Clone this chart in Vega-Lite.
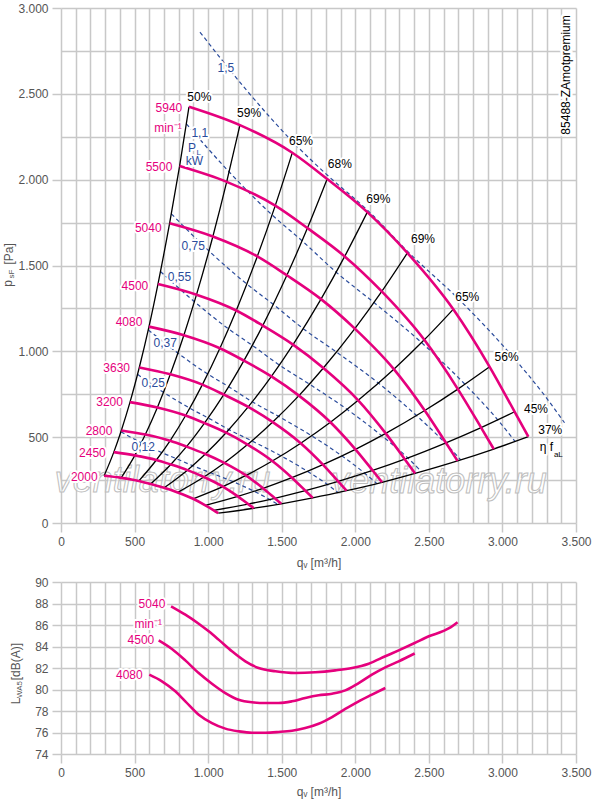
{
  "$schema": "https://vega.github.io/schema/vega-lite/v6.json",
  "description": "Fan curve 85488-ZAmotpremium: pressure vs volume flow and sound power.",
  "background": "white",
  "padding": {"left": 2, "top": 2, "right": 0, "bottom": 6},
  "spacing": 59,
  "bounds": "flush",
  "config": {
    "font": "Liberation Sans",
    "view": {"stroke": null},
    "axis": {
      "grid": true, "gridColor": "#c8c8c8", "gridWidth": 1.5, "domain": false,
      "tickColor": "#c8c8c8", "tickWidth": 1.5, "tickSize": 9, "labelPadding": 4,
      "labelColor": "#555555", "labelFontSize": 12, "labelFont": "Liberation Sans",
      "titleColor": "#555555", "titleFontSize": 12, "titleFontWeight": "normal", "titleFont": "Liberation Sans",
      "labelOverlap": false, "labelFlush": false, "labelBound": false
    },
    "line": {"interpolate": "monotone"}
  },
  "datasets": {
    "pts": [
      {"n":5940,"e":"50","q":870,"p":2425},{"n":5940,"e":"59","q":1216,"p":2318},{"n":5940,"e":"65a","q":1572,"p":2157},{"n":5940,"e":"68","q":1809,"p":2004},{"n":5940,"e":"69a","q":2082,"p":1811},{"n":5940,"e":"69b","q":2354,"p":1573},{"n":5940,"e":"65b","q":2666,"p":1245},{"n":5940,"e":"56","q":2913,"p":910},{"n":5940,"e":"45","q":3083,"p":648},{"n":5940,"e":"37","q":3176,"p":503},
      {"n":5500,"e":"50","q":806,"p":2079},{"n":5500,"e":"59","q":1126,"p":1987},{"n":5500,"e":"65a","q":1456,"p":1849},{"n":5500,"e":"68","q":1675,"p":1718},{"n":5500,"e":"69a","q":1928,"p":1553},{"n":5500,"e":"69b","q":2180,"p":1349},{"n":5500,"e":"65b","q":2469,"p":1067},{"n":5500,"e":"56","q":2697,"p":780},{"n":5500,"e":"45","q":2855,"p":556},{"n":5500,"e":"37","q":2941,"p":431},
      {"n":5040,"e":"50","q":738,"p":1746},{"n":5040,"e":"59","q":1032,"p":1669},{"n":5040,"e":"65a","q":1334,"p":1553},{"n":5040,"e":"68","q":1535,"p":1443},{"n":5040,"e":"69a","q":1767,"p":1304},{"n":5040,"e":"69b","q":1997,"p":1132},{"n":5040,"e":"65b","q":2262,"p":896},{"n":5040,"e":"56","q":2472,"p":655},{"n":5040,"e":"45","q":2616,"p":467},{"n":5040,"e":"37","q":2695,"p":362},
      {"n":4500,"e":"50","q":659,"p":1392},{"n":4500,"e":"59","q":921,"p":1330},{"n":4500,"e":"65a","q":1191,"p":1238},{"n":4500,"e":"68","q":1371,"p":1150},{"n":4500,"e":"69a","q":1577,"p":1039},{"n":4500,"e":"69b","q":1783,"p":903},{"n":4500,"e":"65b","q":2020,"p":715},{"n":4500,"e":"56","q":2207,"p":522},{"n":4500,"e":"45","q":2336,"p":372},{"n":4500,"e":"37","q":2406,"p":289},
      {"n":4080,"e":"50","q":598,"p":1144},{"n":4080,"e":"59","q":835,"p":1094},{"n":4080,"e":"65a","q":1080,"p":1018},{"n":4080,"e":"68","q":1243,"p":946},{"n":4080,"e":"69a","q":1430,"p":854},{"n":4080,"e":"69b","q":1617,"p":742},{"n":4080,"e":"65b","q":1831,"p":587},{"n":4080,"e":"56","q":2001,"p":429},{"n":4080,"e":"45","q":2118,"p":306},{"n":4080,"e":"37","q":2182,"p":237},
      {"n":3630,"e":"50","q":532,"p":906},{"n":3630,"e":"59","q":743,"p":866},{"n":3630,"e":"65a","q":961,"p":806},{"n":3630,"e":"68","q":1106,"p":748},{"n":3630,"e":"69a","q":1272,"p":676},{"n":3630,"e":"69b","q":1439,"p":588},{"n":3630,"e":"65b","q":1629,"p":465},{"n":3630,"e":"56","q":1780,"p":340},{"n":3630,"e":"45","q":1884,"p":242},{"n":3630,"e":"37","q":1941,"p":188},
      {"n":3200,"e":"50","q":469,"p":704},{"n":3200,"e":"59","q":655,"p":673},{"n":3200,"e":"65a","q":847,"p":626},{"n":3200,"e":"68","q":975,"p":582},{"n":3200,"e":"69a","q":1122,"p":526},{"n":3200,"e":"69b","q":1268,"p":457},{"n":3200,"e":"65b","q":1436,"p":361},{"n":3200,"e":"56","q":1569,"p":264},{"n":3200,"e":"45","q":1661,"p":188},{"n":3200,"e":"37","q":1711,"p":146},
      {"n":2800,"e":"50","q":410,"p":539},{"n":2800,"e":"59","q":573,"p":515},{"n":2800,"e":"65a","q":741,"p":479},{"n":2800,"e":"68","q":853,"p":445},{"n":2800,"e":"69a","q":981,"p":402},{"n":2800,"e":"69b","q":1110,"p":350},{"n":2800,"e":"65b","q":1257,"p":277},{"n":2800,"e":"56","q":1373,"p":202},{"n":2800,"e":"45","q":1453,"p":144},{"n":2800,"e":"37","q":1497,"p":112},
      {"n":2450,"e":"50","q":359,"p":413},{"n":2450,"e":"59","q":502,"p":394},{"n":2450,"e":"65a","q":648,"p":367},{"n":2450,"e":"68","q":746,"p":341},{"n":2450,"e":"69a","q":859,"p":308},{"n":2450,"e":"69b","q":971,"p":268},{"n":2450,"e":"65b","q":1100,"p":212},{"n":2450,"e":"56","q":1202,"p":155},{"n":2450,"e":"45","q":1272,"p":110},{"n":2450,"e":"37","q":1310,"p":86},
      {"n":2000,"e":"50","q":293,"p":275},{"n":2000,"e":"59","q":409,"p":263},{"n":2000,"e":"65a","q":529,"p":245},{"n":2000,"e":"68","q":609,"p":227},{"n":2000,"e":"69a","q":701,"p":205},{"n":2000,"e":"69b","q":793,"p":178},{"n":2000,"e":"65b","q":898,"p":141},{"n":2000,"e":"56","q":981,"p":103},{"n":2000,"e":"45","q":1038,"p":74},{"n":2000,"e":"37","q":1069,"p":57}
    ],
    "pw": [
      {"kw":"1,5","q":945,"p":2859},{"kw":"1,5","q":1267,"p":2515},{"kw":"1,5","q":1590,"p":2207},{"kw":"1,5","q":1817,"p":2021},{"kw":"1,5","q":2088,"p":1818},{"kw":"1,5","q":2359,"p":1579},{"kw":"1,5","q":2716,"p":1293},{"kw":"1,5","q":3044,"p":994},{"kw":"1,5","q":3291,"p":738},{"kw":"1,5","q":3422,"p":584},
      {"kw":"1,1","q":852,"p":2325},{"kw":"1,1","q":1142,"p":2046},{"kw":"1,1","q":1434,"p":1795},{"kw":"1,1","q":1638,"p":1644},{"kw":"1,1","q":1870,"p":1461},{"kw":"1,1","q":2127,"p":1284},{"kw":"1,1","q":2450,"p":1051},{"kw":"1,1","q":2745,"p":808},{"kw":"1,1","q":2968,"p":601},{"kw":"1,1","q":3086,"p":475},
      {"kw":"0,75","q":750,"p":1801},{"kw":"0,75","q":1005,"p":1585},{"kw":"0,75","q":1263,"p":1392},{"kw":"0,75","q":1442,"p":1274},{"kw":"0,75","q":1646,"p":1132},{"kw":"0,75","q":1873,"p":995},{"kw":"0,75","q":2157,"p":815},{"kw":"0,75","q":2416,"p":626},{"kw":"0,75","q":2612,"p":465},{"kw":"0,75","q":2716,"p":368},
      {"kw":"0,55","q":676,"p":1465},{"kw":"0,55","q":907,"p":1289},{"kw":"0,55","q":1138,"p":1131},{"kw":"0,55","q":1300,"p":1035},{"kw":"0,55","q":1484,"p":920},{"kw":"0,55","q":1688,"p":809},{"kw":"0,55","q":1944,"p":662},{"kw":"0,55","q":2179,"p":509},{"kw":"0,55","q":2357,"p":379},{"kw":"0,55","q":2450,"p":299},
      {"kw":"0,37","q":593,"p":1125},{"kw":"0,37","q":795,"p":989},{"kw":"0,37","q":997,"p":868},{"kw":"0,37","q":1139,"p":794},{"kw":"0,37","q":1300,"p":706},{"kw":"0,37","q":1479,"p":621},{"kw":"0,37","q":1703,"p":508},{"kw":"0,37","q":1909,"p":391},{"kw":"0,37","q":2064,"p":290},{"kw":"0,37","q":2146,"p":230},
      {"kw":"0,25","q":520,"p":866},{"kw":"0,25","q":697,"p":761},{"kw":"0,25","q":875,"p":669},{"kw":"0,25","q":1000,"p":612},{"kw":"0,25","q":1141,"p":544},{"kw":"0,25","q":1298,"p":478},{"kw":"0,25","q":1495,"p":391},{"kw":"0,25","q":1675,"p":301},{"kw":"0,25","q":1811,"p":224},{"kw":"0,25","q":1883,"p":177},
      {"kw":"0,12","q":407,"p":531},{"kw":"0,12","q":546,"p":467},{"kw":"0,12","q":685,"p":410},{"kw":"0,12","q":783,"p":375},{"kw":"0,12","q":894,"p":334},{"kw":"0,12","q":1016,"p":293},{"kw":"0,12","q":1171,"p":240},{"kw":"0,12","q":1312,"p":185},{"kw":"0,12","q":1418,"p":137},{"kw":"0,12","q":1474,"p":108}
    ],
    "spd": [
      {"t":"5940","q":824,"p":2417},{"t":"min⁻¹","q":820,"p":2299},{"t":"5500","q":757,"p":2074},{"t":"5040","q":684,"p":1718},{"t":"4500","q":593,"p":1382},{"t":"4080","q":553,"p":1169},{"t":"3630","q":469,"p":903},{"t":"3200","q":421,"p":702},{"t":"2800","q":349,"p":536},{"t":"2450","q":304,"p":408},{"t":"2000","q":249,"p":268}
    ],
    "eta": [
      {"t":"50%","q":940,"p":2479},{"t":"59%","q":1278,"p":2386},{"t":"65%","q":1631,"p":2228},{"t":"68%","q":1895,"p":2092},{"t":"69%","q":2157,"p":1889},{"t":"69%","q":2460,"p":1656},{"t":"65%","q":2761,"p":1316},{"t":"56%","q":3028,"p":969},{"t":"45%","q":3228,"p":664},{"t":"37%","q":3325,"p":539},{"t":"η f","q":3299,"p":443}
    ],
    "pwl": [
      {"t":"1,5","q":1121,"p":2650},{"t":"1,1","q":943,"p":2273},{"t":"P","q":890,"p":2186},{"t":"kW","q":906,"p":2110},{"t":"0,75","q":898,"p":1615},{"t":"0,55","q":805,"p":1435},{"t":"0,37","q":708,"p":1050},{"t":"0,25","q":627,"p":817},{"t":"0,12","q":559,"p":444}
    ],
    "lw": [
      {"n":5040,"q":748,"L":87.74},{"n":5040,"q":845,"L":86.96},{"n":5040,"q":936,"L":86.12},{"n":5040,"q":1004,"L":85.41},{"n":5040,"q":1071,"L":84.64},{"n":5040,"q":1162,"L":83.55},{"n":5040,"q":1253,"L":82.62},{"n":5040,"q":1343,"L":82.0},{"n":5040,"q":1457,"L":81.69},{"n":5040,"q":1593,"L":81.53},{"n":5040,"q":1728,"L":81.6},{"n":5040,"q":1864,"L":81.78},{"n":5040,"q":1978,"L":82.0},{"n":5040,"q":2091,"L":82.4},{"n":5040,"q":2204,"L":83.09},{"n":5040,"q":2295,"L":83.64},{"n":5040,"q":2400,"L":84.3},{"n":5040,"q":2500,"L":84.95},{"n":5040,"q":2600,"L":85.45},{"n":5040,"q":2650,"L":85.8},{"n":5040,"q":2695,"L":86.25},
      {"n":4500,"q":664,"L":84.57},{"n":4500,"q":754,"L":83.77},{"n":4500,"q":845,"L":82.71},{"n":4500,"q":936,"L":81.53},{"n":4500,"q":1026,"L":80.54},{"n":4500,"q":1117,"L":79.67},{"n":4500,"q":1207,"L":79.05},{"n":4500,"q":1298,"L":78.81},{"n":4500,"q":1389,"L":78.74},{"n":4500,"q":1479,"L":78.74},{"n":4500,"q":1570,"L":78.9},{"n":4500,"q":1660,"L":79.21},{"n":4500,"q":1751,"L":79.46},{"n":4500,"q":1842,"L":79.61},{"n":4500,"q":1932,"L":79.92},{"n":4500,"q":2023,"L":80.6},{"n":4500,"q":2113,"L":81.38},{"n":4500,"q":2204,"L":82.06},{"n":4500,"q":2295,"L":82.62},{"n":4500,"q":2404,"L":83.35},
      {"n":4080,"q":600,"L":81.38},{"n":4080,"q":686,"L":80.76},{"n":4080,"q":777,"L":79.83},{"n":4080,"q":845,"L":78.9},{"n":4080,"q":936,"L":77.66},{"n":4080,"q":1026,"L":76.88},{"n":4080,"q":1117,"L":76.36},{"n":4080,"q":1207,"L":76.11},{"n":4080,"q":1298,"L":75.98},{"n":4080,"q":1389,"L":75.98},{"n":4080,"q":1479,"L":76.05},{"n":4080,"q":1570,"L":76.17},{"n":4080,"q":1660,"L":76.42},{"n":4080,"q":1751,"L":76.82},{"n":4080,"q":1842,"L":77.44},{"n":4080,"q":1932,"L":78.19},{"n":4080,"q":2023,"L":78.9},{"n":4080,"q":2113,"L":79.52},{"n":4080,"q":2204,"L":80.14}
    ],
    "lwl": [
      {"t":"5040","q":709,"L":87.95},{"t":"min⁻¹","q":686,"L":86.12},{"t":"4500","q":634,"L":84.57},{"t":"4080","q":555,"L":81.38}
    ]
  },
  "vconcat": [
    {
      "width": 515,
      "height": 515,
      "encoding": {
        "x": {
          "field": "q", "type": "quantitative",
          "scale": {"domain": [0, 3500], "nice": false, "zero": false},
          "axis": {
            "values": [0,100,200,300,400,500,600,700,800,900,1000,1100,1200,1300,1400,1500,1600,1700,1800,1900,2000,2100,2200,2300,2400,2500,2600,2700,2800,2900,3000,3100,3200,3300,3400,3500],
            "labelExpr": "datum.value % 500 === 0 ? replace(format(datum.value, ','), ',', '.') : ''",
            "tickOpacity": {"condition": {"test": "datum.value % 500 === 0", "value": 1}, "value": 0},
            "title": "qᵥ [m³/h]",
            "titlePadding": 10
          }
        },
        "y": {
          "field": "p", "type": "quantitative",
          "scale": {"domain": [0, 3000], "nice": false, "zero": false},
          "axis": {
            "values": [0,250,500,750,1000,1250,1500,1750,2000,2250,2500,2750,3000],
            "labelExpr": "datum.value % 500 === 0 ? replace(format(datum.value, ','), ',', '.') : ''",
            "tickOpacity": {"condition": {"test": "datum.value % 500 === 0", "value": 1}, "value": 0},
            "title": null
          }
        }
      },
      "layer": [
        {
          "data": {"values": [{"t": "ventilatorry.ru", "q": 690, "p": 245}, {"t": "ventilatorry.ru", "q": 2569, "p": 239}]},
          "mark": {"type": "text", "fontSize": 36, "fontStyle": "italic", "fill": "white", "fillOpacity": 0.6, "stroke": "#bdbdbd", "strokeWidth": 1, "align": "center", "baseline": "middle"},
          "encoding": {"text": {"field": "t"}}
        },
        {
          "data": {"name": "pw"},
          "mark": {"type": "line", "color": "#2b4c9c", "strokeWidth": 1.2, "strokeDash": [4, 3]},
          "encoding": {"detail": {"field": "kw", "type": "nominal"}, "order": {"field": "q", "type": "quantitative"}}
        },
        {
          "data": {"name": "pts"},
          "mark": {"type": "line", "color": "black", "strokeWidth": 1.3},
          "encoding": {"detail": {"field": "e", "type": "nominal"}, "order": {"field": "q", "type": "quantitative"}}
        },
        {
          "data": {"name": "pts"},
          "mark": {"type": "line", "color": "#e5007d", "strokeWidth": 2.6},
          "encoding": {"detail": {"field": "n", "type": "nominal"}, "order": {"field": "q", "type": "quantitative"}}
        },
        {
          "data": {"name": "spd"},
          "mark": {"type": "text", "align": "right", "baseline": "middle", "fontSize": 12, "fill": "white", "stroke": "white", "strokeWidth": 4, "strokeJoin": "round"},
          "encoding": {"text": {"field": "t"}}
        },
        {
          "data": {"name": "spd"},
          "mark": {"type": "text", "align": "right", "baseline": "middle", "fontSize": 12, "color": "#e5007d"},
          "encoding": {"text": {"field": "t"}}
        },
        {
          "data": {"name": "eta"},
          "mark": {"type": "text", "align": "center", "baseline": "middle", "fontSize": 12, "fill": "white", "stroke": "white", "strokeWidth": 4, "strokeJoin": "round"},
          "encoding": {"text": {"field": "t"}}
        },
        {
          "data": {"name": "eta"},
          "mark": {"type": "text", "align": "center", "baseline": "middle", "fontSize": 12, "color": "black"},
          "encoding": {"text": {"field": "t"}}
        },
        {
          "data": {"name": "pwl"},
          "mark": {"type": "text", "align": "center", "baseline": "middle", "fontSize": 12, "fill": "white", "stroke": "white", "strokeWidth": 4, "strokeJoin": "round"},
          "encoding": {"text": {"field": "t"}}
        },
        {
          "data": {"name": "pwl"},
          "mark": {"type": "text", "align": "center", "baseline": "middle", "fontSize": 12, "color": "#2b4c9c"},
          "encoding": {"text": {"field": "t"}}
        },
        {
          "data": {"values": [{"t": "L", "q": 936, "p": 2158}]},
          "mark": {"type": "text", "align": "center", "baseline": "middle", "fontSize": 8, "color": "#2b4c9c"},
          "encoding": {"text": {"field": "t"}}
        },
        {
          "data": {"values": [{"t": "aL", "q": 3380, "p": 396}]},
          "mark": {"type": "text", "align": "center", "baseline": "middle", "fontSize": 8, "color": "black"},
          "encoding": {"text": {"field": "t"}}
        },
        {
          "data": {"values": [{"t": "85488-ZAmotpremium", "q": 3430, "p": 2610}]},
          "mark": {"type": "text", "align": "center", "baseline": "middle", "angle": 270, "fontSize": 12, "fill": "white", "stroke": "white", "strokeWidth": 5},
          "encoding": {"text": {"field": "t"}}
        },
        {
          "data": {"values": [{"t": "85488-ZAmotpremium", "q": 3430, "p": 2610}]},
          "mark": {"type": "text", "align": "center", "baseline": "middle", "angle": 270, "fontSize": 12, "color": "black"},
          "encoding": {"text": {"field": "t"}}
        },
        {
          "data": {"values": [{"t": "p", "q": -358, "p": 1396}, {"t": "[Pa]", "q": -353, "p": 1568}]},
          "mark": {"type": "text", "align": "center", "baseline": "middle", "angle": 270, "fontSize": 12, "color": "#555555"},
          "encoding": {"text": {"field": "t"}}
        },
        {
          "data": {"values": [{"t": "sF", "q": -335, "p": 1450}]},
          "mark": {"type": "text", "align": "center", "baseline": "middle", "angle": 270, "fontSize": 8, "color": "#555555"},
          "encoding": {"text": {"field": "t"}}
        }
      ]
    },
    {
      "width": 515,
      "height": 172,
      "encoding": {
        "x": {
          "field": "q", "type": "quantitative",
          "scale": {"domain": [0, 3500], "nice": false, "zero": false},
          "axis": {
            "values": [0,100,200,300,400,500,600,700,800,900,1000,1100,1200,1300,1400,1500,1600,1700,1800,1900,2000,2100,2200,2300,2400,2500,2600,2700,2800,2900,3000,3100,3200,3300,3400,3500],
            "labelExpr": "datum.value % 500 === 0 ? replace(format(datum.value, ','), ',', '.') : ''",
            "tickOpacity": {"condition": {"test": "datum.value % 500 === 0", "value": 1}, "value": 0},
            "title": "qᵥ [m³/h]",
            "titlePadding": 8
          }
        },
        "y": {
          "field": "L", "type": "quantitative",
          "scale": {"domain": [74, 90], "nice": false, "zero": false},
          "axis": {"values": [74,76,78,80,82,84,86,88,90], "title": null}
        }
      },
      "layer": [
        {
          "data": {"name": "lw"},
          "mark": {"type": "line", "color": "#e5007d", "strokeWidth": 2.6},
          "encoding": {"detail": {"field": "n", "type": "nominal"}, "order": {"field": "q", "type": "quantitative"}}
        },
        {
          "data": {"name": "lwl"},
          "mark": {"type": "text", "align": "right", "baseline": "middle", "fontSize": 12, "fill": "white", "stroke": "white", "strokeWidth": 4, "strokeJoin": "round"},
          "encoding": {"text": {"field": "t"}}
        },
        {
          "data": {"name": "lwl"},
          "mark": {"type": "text", "align": "right", "baseline": "middle", "fontSize": 12, "color": "#e5007d"},
          "encoding": {"text": {"field": "t"}}
        },
        {
          "data": {"values": [{"t": "L", "q": -308, "L": 78.95}, {"t": "[dB(A)]", "q": -308, "L": 82.6}]},
          "mark": {"type": "text", "align": "center", "baseline": "middle", "angle": 270, "fontSize": 12, "color": "#555555"},
          "encoding": {"text": {"field": "t"}}
        },
        {
          "data": {"values": [{"t": "WA5", "q": -279, "L": 80.0}]},
          "mark": {"type": "text", "align": "center", "baseline": "middle", "angle": 270, "fontSize": 8, "color": "#555555"},
          "encoding": {"text": {"field": "t"}}
        }
      ]
    }
  ]
}
